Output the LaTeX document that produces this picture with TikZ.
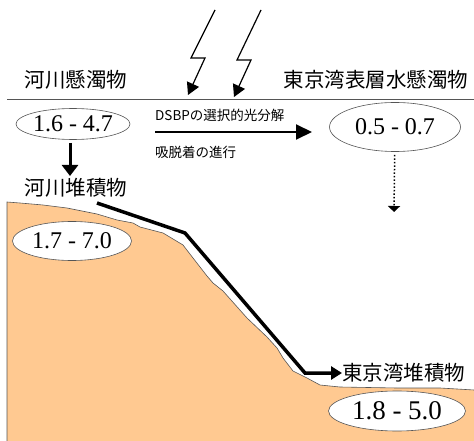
\documentclass[tikz,border=0pt]{standalone}
\usepackage{fontspec}
\setmainfont{Liberation Serif}
\newfontfamily\jpfont{Noto Sans CJK JP}
\usetikzlibrary{arrows.meta,positioning,shapes.geometric}
\definecolor{sand}{HTML}{FFC991}
\definecolor{edgegray}{HTML}{555555}
\tikzset{
  valbox/.style={draw=edgegray,fill=white,ellipse,line width=0.6pt,
                 inner sep=0pt,font=\fontsize{24}{27}\selectfont},
  jptitle/.style={inner sep=0pt,font=\jpfont\fontsize{20.5}{24}\selectfont},
  jpnote/.style={inner sep=0pt,font=\jpfont\fontsize{13.5}{16}\selectfont},
  boltarr/.style={-{Triangle[length=12pt,width=13pt]},line width=1.2pt},
  procarr/.style={-{Triangle[length=16pt,width=15pt]},line width=2pt},
  droparr/.style={-{Triangle[length=11pt,width=16pt]},line width=3pt},
  sedarr/.style={-{Triangle[length=11pt,width=13pt]},line width=3.5pt},
  sinkarr/.style={-{Triangle[length=6pt,width=12pt]},line width=1.5pt,dotted}
}
\begin{document}
\begin{tikzpicture}[x=1pt,y=-1pt]
  \useasboundingbox (0,0) rectangle (474,441);

  % ground profile
  \fill[sand] (7,441) -- (7,202) -- (20,203) -- (43,205) -- (67,208) -- (97,214)
    -- (117,220) -- (133,223) -- (140,227) -- (163,233) -- (183,245) -- (193,258)
    -- (207,276) -- (213,283) -- (223,291) -- (247,318) -- (267,337) -- (277,348)
    -- (283,358) -- (293,371) -- (307,378) -- (320,385) -- (340,387) -- (397,388)
    -- (440,388) -- (474,390) -- (474,441) -- cycle;
  \draw[edgegray,line width=0.6pt] (7,441) -- (7,202) -- (20,203) -- (43,205) -- (67,208) -- (97,214)
    -- (117,220) -- (133,223) -- (140,227) -- (163,233) -- (183,245) -- (193,258)
    -- (207,276) -- (213,283) -- (223,291) -- (247,318) -- (267,337) -- (277,348)
    -- (283,358) -- (293,371) -- (307,378) -- (320,385) -- (340,387) -- (397,388)
    -- (440,388) -- (474,390);

  % water surface
  \coordinate (surfL) at (7,99);
  \coordinate (surfR) at (474,99);
  \draw[edgegray,line width=0.6pt] (surfL) -- (surfR);

  % sunlight
  \foreach \dx/\dy in {0/0,46/2}
    \draw[boltarr] (215+\dx,10) -- (191+\dx,58+\dy) -- (205+\dx,58+\dy) -- (188+\dx,95+\dy);

  \node[jptitle] (rivsusp) at (76,80) {河川懸濁物};
  \node[jptitle] (baysusp) at (376,80) {東京湾表層水懸濁物};
  \node[valbox,minimum width=114pt,minimum height=31pt] (rivsuspval) at (73,124) {1.6 - 4.7};
  \node[valbox,minimum width=131pt,minimum height=49pt] (baysuspval) at (395,127) {0.5 - 0.7};

  \coordinate (pstart) at (155,132);
  \coordinate (pend) at (312,132);
  \draw[procarr] (pstart) -- (pend);
  \node[jpnote,anchor=west] (photo) at (155,115) {DSBPの選択的光分解};
  \node[jpnote,anchor=west] (sorp) at (155,152) {吸脱着の進行};

  \node[jptitle] (rivsed) at (76,188) {河川堆積物};
  \node[valbox,minimum width=119pt,minimum height=39pt] (rivsedval) at (72,241) {1.7 - 7.0};
  \node[jptitle,anchor=west] (baysed) at (342,373) {東京湾堆積物};
  \node[valbox,minimum width=137pt,minimum height=40pt,font=\fontsize{27}{30}\selectfont]
    (baysedval) at (397,411) {1.8 - 5.0};

  \draw[droparr,shorten <=3pt] (rivsuspval.south -| 70,0) -- (70,176);

  \coordinate (sink) at (394,212);
  \draw[sinkarr,shorten <=3pt] (baysuspval) -- (sink);

  \coordinate (bedtop) at (97,203);
  \draw[sedarr] (bedtop) -- (185,233) -- (305,373) -- (baysed.west);
\end{tikzpicture}
\end{document}
